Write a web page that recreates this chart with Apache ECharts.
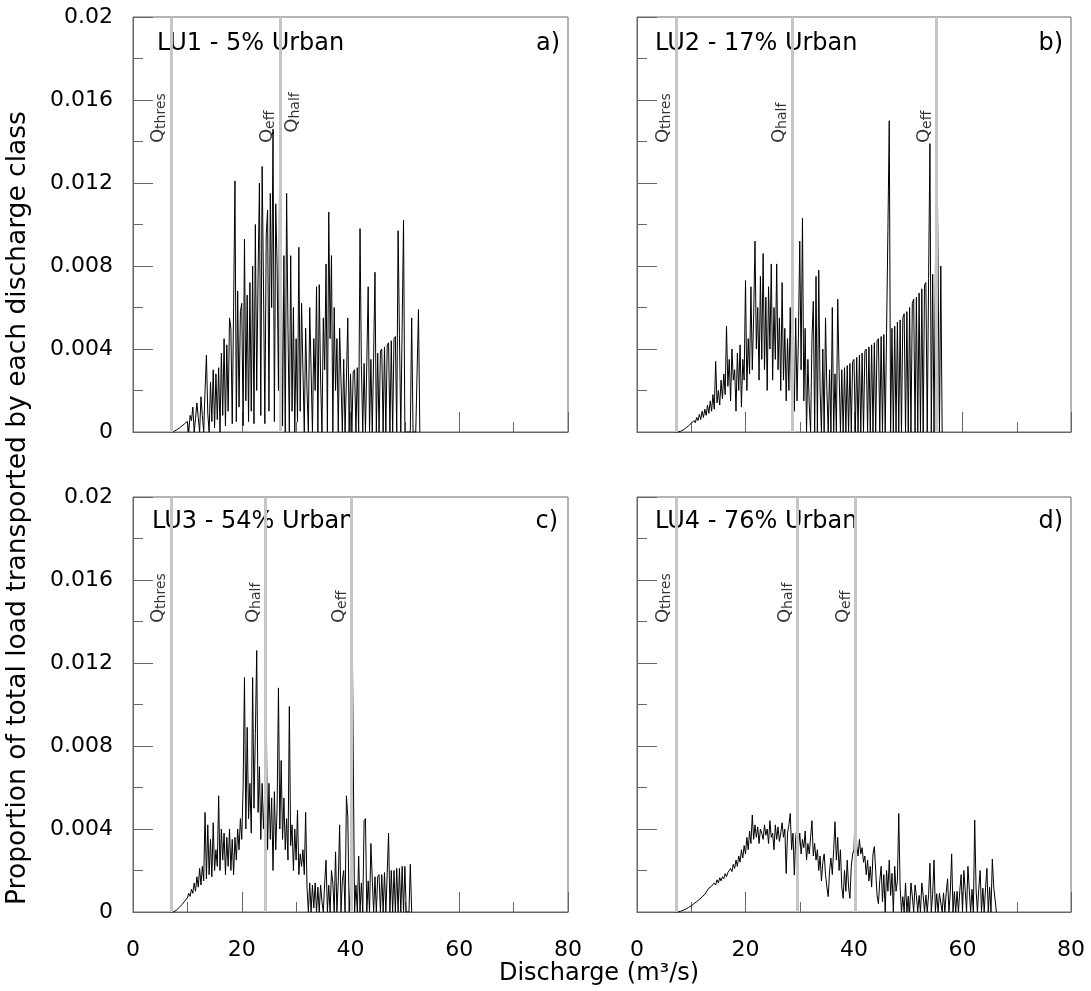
<!DOCTYPE html>
<html><head><meta charset="utf-8">
<script src="https://cdn.jsdelivr.net/npm/echarts@6/dist/echarts.min.js"></script>
<style>html,body{margin:0;padding:0;background:#fff}#c{width:1091px;height:991px}</style>
</head><body><div id="c"></div>
<script>
// Discharge classes (m3/s): first class and class width
const classStart = 7.0;
const classWidth = 0.25;

// Proportion of total load transported by each discharge class (units of 1e-4)
const loadLU1 = [
 0,0.1,0.3,0.6, 1,1.4,1.9,2.4, 2.9,3.4,4,4.5, 5.1,0,8,5.5, 12,0,6.5,14, 7,0,17,8,
 0,20,37,9, 0,24,5,30, 2,28,6,31, 0,38,8,45, 3,42,10,55, 50,4,60,121,
 5,68,12,58, 62,3,93,15, 66,5,72,10, 80,4,100,20, 75,120,8,128, 70,4,95,107,
 10,115,60,146, 5,110,80,20, 150,90,3,85, 0,115,50,0, 85,10,60,0, 45,5,89,10,
 62,30,0,50, 20,0,60,30, 0,45,20,70, 0,71,25,0, 55,30,81,0, 106,45,85,0,
 60,20,45,0, 50,25,0,35, 0,26,55,0, 28,0,29,30, 0,31,0,98, 32,0,33,0,
 34,70,0,35, 0,36,77,0, 38,0,39,40, 0,41,0,42, 43,0,44,0, 45,46,0,97,
 47,0,0,102, 0,0,0,0, 0,55,0,0, 0,0,59,0
];
const loadLU2 = [
 0,0,0,0.1, 0.3,0.6,1,1.4, 1.9,2.4,3,3.6, 4.2,4.8,5.5,4.5, 7,5.5,8.5,6, 10,7,11,8,
 13,9,15,10, 18,11,34,14, 20,13,25,16, 28,18,51,22, 35,15,40,25, 30,10,38,20,
 42,12,35,25, 73,20,45,28, 70,30,55,92, 40,60,25,75, 35,86,30,65, 20,70,40,81,
 25,60,35,81, 30,55,20,72, 25,50,15,45, 20,60,12,40, 10,55,15,45, 92,30,103,15,
 50,0,35,13, 0,45,63,0, 75,0,78,20, 0,40,0,55, 20,0,30,0, 60,0,28,0,
 64,29,0,30, 0,31,0,32, 0,33,0,34, 35,0,36,0, 37,0,38,0, 39,40,0,41,
 0,42,0,43, 0,44,45,0, 46,0,47,0, 48,97,150,0, 50,0,51,0, 53,0,54,0,
 55,57,0,58, 0,60,0,62, 64,0,65,0, 67,0,69,0, 71,72,0,74, 139,0,76,0,
 0,153,78,0, 80,0
];
const loadLU3 = [
 0,0,0.1,0.4, 0.9,1.5,2.2,2.9, 3.6,4.4,5.2,6, 6.8,9,7.5,11, 9,14,10,17, 12,21,13,22,
 15,48,16,42, 18,35,17,43, 20,30,22,56, 20,40,25,38, 18,36,22,40, 20,35,18,36,
 25,40,30,45, 35,60,113,40, 89,45,62,38, 113,50,86,126, 48,70,35,62, 40,58,97,30,
 62,35,55,20, 58,30,50,108, 40,73,35,55, 30,45,25,99, 32,42,20,40, 25,49,18,28,
 22,30,18,48, 12,0,14,0, 13,2,14,0, 12,0,13,5, 0,14,25,0, 13,0,20,14,
 0,29,0,15, 42,0,15,20, 0,56,46,0, 13,160,75,0, 13,0,27,0, 14,0,44,45,
 0,15,0,33, 16,0,17,0, 17,18,0,18, 0,19,0,19, 38,0,20,0, 20,0,21,0,
 21,0,22,0, 22,0,0,0, 23,0
];
const loadLU4 = [
 0,0,0,0.1, 0.3,0.5,0.8,1.1, 1.4,1.8,2.2,2.6, 3,3.5,4,4.5, 5,5.5,6.1,6.7, 7.3,8,8.5,9.5,
 10,11.5,11,12.5, 12,14,13,15.5, 14,16.5,15,17, 16,18.5,17,19, 18.5,21,19.5,23, 21,25,22,27,
 24,30,26,32, 28,36,30,39, 33,46.7,35,42, 36,41,33,40, 38,35,42,37, 40,33,44,36,
 38,30,42,35, 41,34,38,43, 36,40,18.6,38, 42,47.5,30,38, 17.8,36,41,30, 38,28,35,31,
 39,25,33,28, 36,44,27,33, 25,30,20,27, 15,24,28,18, 12,7.4,20,26, 18,30,43.5,25,
 36,20,30,12, 6.6,20,10,25, 12,6.6,22,28, 30,53.5,32,27, 35,28,31,24, 27,18,25,15,
 22,12,28,31.5, 20,8,4,15, 22,5,18,0, 20,10,25,8, 18.6,0,22,10, 15,47.5,12,0,
 7.4,0,14,0, 7.6,0,14,7.7, 0,13,7.9,0, 8,0,14,8.1, 0,8.2,0,8.4, 23.5,0,8.6,25,
 0,8.8,0,9, 9.1,0,9.2,0, 9.4,16,0,9.6, 28,0,9.8,0, 10,0,10.2,18, 0,20,10.5,0,
 22,10.7,0,10.9, 0,44.3,11.1,0, 11.3,20,0,11.5, 0,11.7,21,0, 11.9,0,25.5,12.1, 12.2,0
];

const panelTitles = ['LU1 - 5% Urban', 'LU2 - 17% Urban', 'LU3 - 54% Urban', 'LU4 - 76% Urban'];
const panelLetters = ['a)', 'b)', 'c)', 'd)'];
// Characteristic discharges (m3/s)
const qThres = [7.0, 7.2, 6.95, 7.2];
const qHalf  = [27.0, 28.55, 24.35, 29.6];
const qEff   = [27.0, 55.25, 40.2, 40.3];

// ---------- layout / style ----------
const FONT = '"DejaVu Sans", "Liberation Sans", Arial, sans-serif';
const AXIS_COLOR = '#666';
const grids = [
  {left: 133, top: 17, width: 435, height: 415},
  {left: 637, top: 17, width: 434, height: 415},
  {left: 133, top: 497, width: 435, height: 415},
  {left: 637, top: 497, width: 434, height: 415}
];
const qLabelLevel = 0.0139;
const qLabelLevelA = 0.0144;
const titlePos = [[157, 44], [655, 44], [152, 522], [655, 522]];
const letterPos = [[560, 44], [1063, 44], [558, 522], [1063, 522]];

const loads = [loadLU1, loadLU2, loadLU3, loadLU4];
const toPoints = arr => arr.map((v, i) => [classStart + i * classWidth, v / 1e4]);

const chart = echarts.init(document.getElementById('c'), null, {renderer: 'canvas'});

const xAxes = grids.map((g, i) => ({
  type: 'value', gridIndex: i, min: 0, max: 80, interval: 20,
  axisLine: {show: true, lineStyle: {color: AXIS_COLOR, width: 1}},
  axisTick: {show: true, inside: true, length: 20, lineStyle: {color: AXIS_COLOR}},
  minorTick: {show: true, splitNumber: 2, length: 10, lineStyle: {color: AXIS_COLOR}},
  splitLine: {show: false},
  axisLabel: {show: i >= 2, fontSize: 22, fontFamily: FONT, color: '#000', margin: 27}
}));
const yAxes = grids.map((g, i) => ({
  type: 'value', gridIndex: i, min: 0, max: 0.02, interval: 0.004,
  axisLine: {show: true, lineStyle: {color: AXIS_COLOR, width: 1}},
  axisTick: {show: true, inside: true, length: 20, lineStyle: {color: AXIS_COLOR}},
  minorTick: {show: true, splitNumber: 2, length: 10, lineStyle: {color: AXIS_COLOR}},
  splitLine: {show: false},
  axisLabel: {show: i % 2 === 0, fontSize: 22, fontFamily: FONT, color: '#000', margin: 20,
    formatter: v => v === 0 ? '0' : String(Number(v.toFixed(4)))}
}));

const series = [];
grids.forEach((g, i) => {
  // characteristic discharge lines
  series.push({
    type: 'line', xAxisIndex: i, yAxisIndex: i, data: [], z: 1, silent: true,
    markLine: {
      silent: true, symbol: ['none', 'none'], animation: false,
      label: {show: false},
      lineStyle: {color: '#c6c6c6', width: 3, type: 'solid'},
      emphasis: {disabled: true},
      data: [{xAxis: qThres[i]}, {xAxis: qHalf[i]}, {xAxis: qEff[i]}]
    }
  });
  // load distribution
  series.push({
    type: 'line', xAxisIndex: i, yAxisIndex: i, data: toPoints(loads[i]), z: 2,
    showSymbol: false, symbol: 'none', silent: true,
    lineStyle: {color: '#000', width: 1}
  });
  // labels of characteristic discharges
  const entries = [
    {n: 'thres', v: [qThres[i], qLabelLevel], right: false},
    {n: 'half', v: [qHalf[i], i === 0 ? qLabelLevelA : qLabelLevel], right: i === 0},
    {n: 'eff', v: [qEff[i], qLabelLevel], right: false}
  ];
  series.push({
    type: 'scatter', xAxisIndex: i, yAxisIndex: i, z: 5, silent: true,
    symbolSize: 1, itemStyle: {color: 'rgba(0,0,0,0)'},
    label: {
      show: true, rotate: 90, position: [0, 0], align: 'left',
      rich: {
        q: {fontSize: 18, fontFamily: FONT, color: '#000', lineHeight: 19, verticalAlign: 'top'},
        s: {fontSize: 14, fontFamily: FONT, color: '#000', lineHeight: 14, padding: [9, 0, 0, 0], verticalAlign: 'bottom'}
      }
    },
    data: entries.map(e => ({
      value: e.v,
      label: {formatter: '{q|Q}{s|' + e.n + '}', verticalAlign: e.right ? 'top' : 'bottom',
        padding: e.right ? [4, 0, 0, 0] : [0, 0, 2, 0]}
    }))
  });
});

const graphic = [];
panelTitles.forEach((t, i) => {
  graphic.push({type: 'text', x: titlePos[i][0], y: titlePos[i][1], silent: true,
    style: {text: t, font: '24px ' + FONT, fill: '#000', textAlign: 'left', textVerticalAlign: 'middle'}});
  graphic.push({type: 'text', x: letterPos[i][0], y: letterPos[i][1], silent: true,
    style: {text: panelLetters[i], font: '24px ' + FONT, fill: '#000', textAlign: 'right', textVerticalAlign: 'middle'}});
});
graphic.push({type: 'text', x: 18, y: 508, rotation: Math.PI / 2, silent: true,
  style: {text: 'Proportion of total load transported by each discharge class', font: '26.5px ' + FONT,
    fill: '#000', textAlign: 'center', textVerticalAlign: 'middle'}});
graphic.push({type: 'text', x: 599, y: 974, silent: true,
  style: {text: 'Discharge (m\u00B3/s)', font: '24px ' + FONT, fill: '#000', textAlign: 'center', textVerticalAlign: 'middle'}});

chart.setOption({
  animation: false,
  backgroundColor: '#fff',
  grid: grids.map(g => Object.assign({show: true, borderColor: AXIS_COLOR, borderWidth: 1, containLabel: false}, g)),
  xAxis: xAxes,
  yAxis: yAxes,
  series: series,
  graphic: graphic
});
</script>
</body></html>
